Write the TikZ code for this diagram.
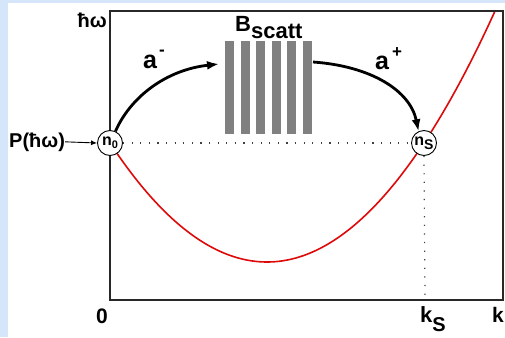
\documentclass[tikz,border=0pt]{standalone}
\usepackage{fontspec}
\setmainfont{Liberation Sans}
\usetikzlibrary{arrows.meta}
\definecolor{bgblue}{RGB}{214,230,250}
\definecolor{bargray}{RGB}{128,128,128}
\definecolor{curvered}{RGB}{222,10,10}
\definecolor{boxline}{RGB}{40,40,40}
\newcommand{\fsz}[1]{\fontsize{#1}{#1}\selectfont}
\begin{document}
\begin{tikzpicture}[x=1pt,y=-1pt,
  lbl/.style={font=\bfseries\fsz{20}, inner sep=0pt, text=black},
  bigl/.style={font=\bfseries\fsz{25}, inner sep=0pt, text=black},
  occ/.style={circle, draw=black, fill=white, line width=0.9pt, minimum size=25pt, inner sep=0pt, font=\bfseries},
  scattbar/.style={fill=bargray, draw=none},
  guide/.style={line width=1.2pt, draw=black!75, dash pattern=on 1.2pt off 7.4pt},
  transfer/.style={line width=2.8pt, -{Latex[length=12pt,width=9pt]}},
  pump/.style={line width=0.9pt, -{Latex[length=6pt,width=5pt]}}]
\useasboundingbox (0,0) rectangle (505,337);
\fill[bgblue] (0,0) rectangle (505,337);
\fill[white] (8,3) rectangle (505,337);
% dispersion curve
\begin{scope}
  \clip (110,11) rectangle (503,300);
  \draw[curvered, line width=1.6pt] plot[domain=108:500, samples=120, smooth]
     (\x, {262 - 119*((\x-267)/157)^2});
\end{scope}
% frame
\draw[boxline, line width=1.3pt] (110,11) rectangle (503,300);
\coordinate (kS) at (425,300);
% scattering bars
\foreach \bx in {225,241,256,272,287,303}
  \fill[scattbar] (\bx,41) rectangle ++(8.5,93);
% occupation circles
\node[occ] (n0) at (110,143) {\fsz{16}n\raisebox{-3pt}{\fsz{11}0}};
\node[occ] (ns) at (424,143) {\fsz{16}n\raisebox{-4pt}{\fsz{14}S}};
% guide lines
\draw[guide] (n0.east) -- (ns.west);
\draw[guide] (ns.south) -- (kS);
% pump
\node[lbl, anchor=base west] (P) at (9,147) {P(ħω)};
\draw[pump] (P.east) -- (n0.west);
% transfers
\coordinate (am) at (219,64);
\coordinate (ap) at (313,62);
\draw[transfer] (n0.65) .. controls (130,98) and (165,70) .. (am);
\draw[transfer] (ap) .. controls (370,66) and (410,90) .. (ns.115);
% labels
\node[bigl, anchor=base west] (aminus) at (143,68) {a\hspace{2pt}\raisebox{13pt}{\fsz{17}-}};
\node[bigl, anchor=base west] (aplus) at (375,70) {a\hspace{3pt}\raisebox{13pt}{\fsz{17}+}};
\node[lbl, font=\bfseries\fsz{22}, anchor=base west] (B) at (235,31) {B\raisebox{-8pt}{scatt}};
\node[lbl, anchor=base east] (hw) at (107,28) {ħω};
\node[lbl, font=\bfseries\fsz{21}, anchor=base] (zero) at (102,323) {0};
\node[lbl, font=\bfseries\fsz{22}, anchor=base west] (kSl) at (420,322) {k\raisebox{-9pt}{\fsz{20}S}};
\node[lbl, font=\bfseries\fsz{21}, anchor=base west] (kl) at (492,322) {k};
\end{tikzpicture}
\end{document}
